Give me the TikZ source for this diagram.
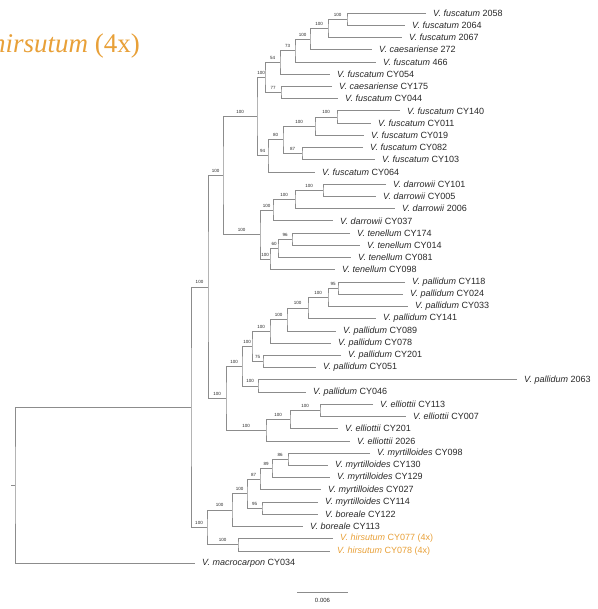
\documentclass[tikz,border=0pt]{standalone}
\usepackage{fontspec}
\setsansfont{Liberation Sans}
\newfontfamily\titlefont{Liberation Serif}
\definecolor{treegray}{RGB}{140,140,140}
\definecolor{tipgray}{RGB}{40,40,40}
\definecolor{tetraorange}{RGB}{232,160,56}

\begin{document}
\begin{tikzpicture}[x=1pt,y=-1pt,
    branch/.style={draw=treegray, line width=0.6pt},
    tip/.style={anchor=west, inner xsep=7pt, inner ysep=0.5pt, text=tipgray,
        font=\sffamily\fontsize{9}{10}\selectfont},
    tetratip/.style={tip, text=tetraorange},
    support/.style={anchor=south, inner sep=0.6pt, yshift=2pt, text=tipgray,
        font=\sffamily\fontsize{4.5}{5}\selectfont},
    suptop/.style={support, pos=0.25},
    supbot/.style={support, pos=0.75}]

    \useasboundingbox (0,0) rectangle (597,609);

    \node[anchor=base west, inner sep=0, text=tetraorange,
        font=\titlefont\fontsize{27}{30}\selectfont] (ttl) at (-8,53)
        {\textit{hirsutum} (4x)};

    % tips
    \node[tip] (l1) at (426,13.0) {\textit{V. fuscatum} 2058};
    \node[tip] (l2) at (405,25.2) {\textit{V. fuscatum} 2064};
    \node[tip] (l3) at (402,37.4) {\textit{V. fuscatum} 2067};
    \node[tip] (l4) at (372,49.7) {\textit{V. caesariense} 272};
    \node[tip] (l5) at (376,61.9) {\textit{V. fuscatum} 466};
    \node[tip] (l6) at (330,74.1) {\textit{V. fuscatum} CY054};
    \node[tip] (l7) at (332,86.3) {\textit{V. caesariense} CY175};
    \node[tip] (l8) at (338,98.6) {\textit{V. fuscatum} CY044};
    \node[tip] (l9) at (400,110.8) {\textit{V. fuscatum} CY140};
    \node[tip] (l10) at (371,123.0) {\textit{V. fuscatum} CY011};
    \node[tip] (l11) at (364,135.2) {\textit{V. fuscatum} CY019};
    \node[tip] (l12) at (363,147.4) {\textit{V. fuscatum} CY082};
    \node[tip] (l13) at (375,159.7) {\textit{V. fuscatum} CY103};
    \node[tip] (l14) at (315,171.9) {\textit{V. fuscatum} CY064};
    \node[tip] (l15) at (386,184.1) {\textit{V. darrowii} CY101};
    \node[tip] (l16) at (376,196.3) {\textit{V. darrowii} CY005};
    \node[tip] (l17) at (395,208.6) {\textit{V. darrowii} 2006};
    \node[tip] (l18) at (333,220.8) {\textit{V. darrowii} CY037};
    \node[tip] (l19) at (350,233.0) {\textit{V. tenellum} CY174};
    \node[tip] (l20) at (360,245.2) {\textit{V. tenellum} CY014};
    \node[tip] (l21) at (351,257.4) {\textit{V. tenellum} CY081};
    \node[tip] (l22) at (335,269.7) {\textit{V. tenellum} CY098};
    \node[tip] (l23) at (405,281.9) {\textit{V. pallidum} CY118};
    \node[tip] (l24) at (403,294.1) {\textit{V. pallidum} CY024};
    \node[tip] (l25) at (408,306.3) {\textit{V. pallidum} CY033};
    \node[tip] (l26) at (376,318.6) {\textit{V. pallidum} CY141};
    \node[tip] (l27) at (336,330.8) {\textit{V. pallidum} CY089};
    \node[tip] (l28) at (331,343.0) {\textit{V. pallidum} CY078};
    \node[tip] (l29) at (341,355.2) {\textit{V. pallidum} CY201};
    \node[tip] (l30) at (316,367.4) {\textit{V. pallidum} CY051};
    \node[tip] (l31) at (517,379.7) {\textit{V. pallidum} 2063};
    \node[tip] (l32) at (306,391.9) {\textit{V. pallidum} CY046};
    \node[tip] (l33) at (373,404.1) {\textit{V. elliottii} CY113};
    \node[tip] (l34) at (406,416.3) {\textit{V. elliottii} CY007};
    \node[tip] (l35) at (338,428.6) {\textit{V. elliottii} CY201};
    \node[tip] (l36) at (350,440.8) {\textit{V. elliottii} 2026};
    \node[tip] (l37) at (370,453.0) {\textit{V. myrtilloides} CY098};
    \node[tip] (l38) at (328,465.2) {\textit{V. myrtilloides} CY130};
    \node[tip] (l39) at (330,477.4) {\textit{V. myrtilloides} CY129};
    \node[tip] (l40) at (321,489.7) {\textit{V. myrtilloides} CY027};
    \node[tip] (l41) at (318,501.9) {\textit{V. myrtilloides} CY114};
    \node[tip] (l42) at (318,514.1) {\textit{V. boreale} CY122};
    \node[tip] (l43) at (303,526.3) {\textit{V. boreale} CY113};
    \node[tetratip] (l44) at (333,538.6) {\textit{V. hirsutum} CY077 (4x)};
    \node[tetratip] (l45) at (330,550.8) {\textit{V. hirsutum} CY078 (4x)};
    \node[tip] (l46) at (195,563.0) {\textit{V. macrocarpon} CY034};

    % #######################################

    \coordinate (F1) at (347,19.1);
    \coordinate (F2) at (328,28.3);
    \coordinate (F3) at (310,39.0);
    \coordinate (F4) at (295,50.4);
    \coordinate (F5) at (280,62.3);
    \coordinate (F7) at (281,92.4);
    \coordinate (F6) at (265,77.3);
    \coordinate (F8) at (337,116.9);
    \coordinate (F9) at (315,126.0);
    \coordinate (F10) at (302,153.5);
    \coordinate (F11) at (283,139.8);
    \coordinate (F12) at (268,155.8);
    \coordinate (Fus) at (257,116.5);
    \coordinate (D1) at (323,190.2);
    \coordinate (D2) at (295,199.4);
    \coordinate (D3) at (273,210.1);
    \coordinate (D4) at (292,239.1);
    \coordinate (D5) at (278,248.2);
    \coordinate (D6) at (270,259.0);
    \coordinate (Dar) at (260,234.5);
    \coordinate (C) at (223,175.5);
    \coordinate (P1) at (338,288.0);
    \coordinate (P2) at (328,297.1);
    \coordinate (P3) at (308,307.9);
    \coordinate (P4) at (287,319.3);
    \coordinate (P5) at (270,331.2);
    \coordinate (P6) at (263,361.3);
    \coordinate (P7) at (252,346.2);
    \coordinate (P8) at (258,385.8);
    \coordinate (Pal) at (242,366.0);
    \coordinate (E1) at (320,410.2);
    \coordinate (E2) at (290,419.4);
    \coordinate (Ell) at (266,430.1);
    \coordinate (G) at (226,398.0);
    \coordinate (A) at (208,286.8);
    \coordinate (M4) at (288,459.1);
    \coordinate (M3) at (272,468.3);
    \coordinate (M2) at (260,479.0);
    \coordinate (M5) at (262,508.0);
    \coordinate (M1) at (247,493.5);
    \coordinate (M0) at (232,509.9);
    \coordinate (H) at (238,544.7);
    \coordinate (B) at (207,527.3);
    \coordinate (I) at (191,407.1);
    \coordinate (R) at (15,485.0);
    \coordinate (stub) at (11,485.0);

    % fuscatum
    \draw[branch] (l1.west) -| (F1) |- (l2.west);
    \draw[branch] (F1) -| node[suptop]{100} (F2) |- (l3.west);
    \draw[branch] (F2) -| node[suptop]{100} (F3) |- (l4.west);
    \draw[branch] (F3) -| node[suptop]{100} (F4) |- (l5.west);
    \draw[branch] (F4) -| node[suptop]{73} (F5) |- (l6.west);
    \draw[branch] (l7.west) -| (F7) |- (l8.west);
    \draw[branch] (F5) -| node[suptop]{54} (F6) |- node[supbot]{77} (F7);
    \draw[branch] (l9.west) -| (F8) |- (l10.west);
    \draw[branch] (F8) -| node[suptop]{100} (F9) |- (l11.west);
    \draw[branch] (l12.west) -| (F10) |- (l13.west);
    \draw[branch] (F9) -| node[suptop]{100} (F11) |- node[supbot]{87} (F10);
    \draw[branch] (F11) -| node[suptop]{80} (F12) |- (l14.west);
    \draw[branch] (F6) -| node[suptop]{100} (Fus) |- node[supbot]{94} (F12);

    % darrowii, tenellum
    \draw[branch] (l15.west) -| (D1) |- (l16.west);
    \draw[branch] (D1) -| node[suptop]{100} (D2) |- (l17.west);
    \draw[branch] (D2) -| node[suptop]{100} (D3) |- (l18.west);
    \draw[branch] (l19.west) -| (D4) |- (l20.west);
    \draw[branch] (D4) -| node[suptop]{96} (D5) |- (l21.west);
    \draw[branch] (D5) -| node[suptop]{60} (D6) |- (l22.west);
    \draw[branch] (D3) -| node[suptop]{100} (Dar) |- node[supbot]{100} (D6);
    \draw[branch] (Fus) -| node[suptop]{100} (C) |- node[supbot]{100} (Dar);

    % pallidum, elliottii
    \draw[branch] (l23.west) -| (P1) |- (l24.west);
    \draw[branch] (P1) -| node[suptop]{95} (P2) |- (l25.west);
    \draw[branch] (P2) -| node[suptop]{100} (P3) |- (l26.west);
    \draw[branch] (P3) -| node[suptop]{100} (P4) |- (l27.west);
    \draw[branch] (P4) -| node[suptop]{100} (P5) |- (l28.west);
    \draw[branch] (l29.west) -| (P6) |- (l30.west);
    \draw[branch] (P5) -| node[suptop]{100} (P7) |- node[supbot]{75} (P6);
    \draw[branch] (l31.west) -| (P8) |- (l32.west);
    \draw[branch] (P7) -| node[suptop]{100} (Pal) |- node[supbot]{100} (P8);
    \draw[branch] (l33.west) -| (E1) |- (l34.west);
    \draw[branch] (E1) -| node[suptop]{100} (E2) |- (l35.west);
    \draw[branch] (E2) -| node[suptop]{100} (Ell) |- (l36.west);
    \draw[branch] (Pal) -| node[suptop]{100} (G) |- node[supbot]{100} (Ell);
    \draw[branch] (C) -| node[suptop]{100} (A) |- node[supbot]{100} (G);

    % myrtilloides, boreale, hirsutum
    \draw[branch] (l37.west) -| (M4) |- (l38.west);
    \draw[branch] (M4) -| node[suptop]{86} (M3) |- (l39.west);
    \draw[branch] (M3) -| node[suptop]{89} (M2) |- (l40.west);
    \draw[branch] (l41.west) -| (M5) |- (l42.west);
    \draw[branch] (M2) -| node[suptop]{87} (M1) |- node[supbot]{95} (M5);
    \draw[branch] (M1) -| node[suptop]{100} (M0) |- (l43.west);
    \draw[branch] (l44.west) -| (H) |- (l45.west);
    \draw[branch] (M0) -| node[suptop]{100} (B) |- node[supbot]{100} (H);

    % root
    \draw[branch] (A) -| node[suptop]{100} (I) |- node[supbot]{100} (B);
    \draw[branch] (I) -| (R) |- (l46.west);
    \draw[branch] (R) -- (stub);

    % scale bar
    \coordinate (sbl) at (297,592);
    \coordinate (sbr) at (348,592);
    \draw[branch] (sbl) -- node[anchor=north, yshift=-6pt, inner sep=0, text=tipgray,
        font=\sffamily\fontsize{6}{7}\selectfont] (sblbl) {0.006} (sbr);

\end{tikzpicture}
\end{document}
